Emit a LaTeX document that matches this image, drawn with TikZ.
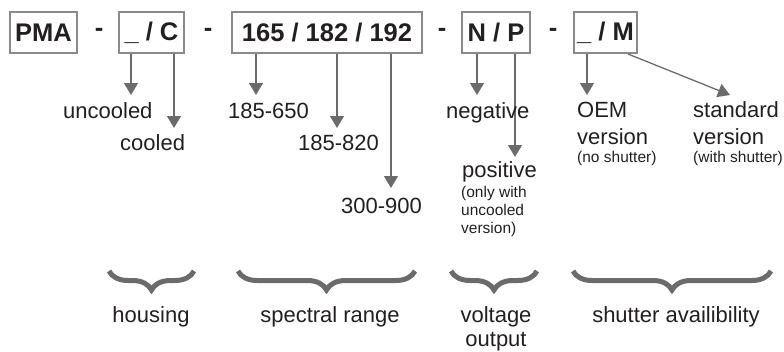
\documentclass[tikz,border=0pt]{standalone}
\usepackage{fontspec}
\setmainfont{Liberation Sans}
\usetikzlibrary{arrows.meta,decorations.pathreplacing}
\definecolor{txt}{HTML}{231F20}
\definecolor{boxc}{HTML}{8A8A8A}
\definecolor{arrc}{HTML}{6B6B6B}
\tikzset{
  codebox/.style={draw=boxc,line width=1.2pt,inner sep=0pt,minimum height=41pt,text=txt,font=\fontsize{25.5}{28}\selectfont\bfseries},
  sep/.style={inner sep=0pt,text=txt,font=\fontsize{25.5}{28}\selectfont\bfseries},
  lab/.style={inner sep=0pt,text=txt,font=\fontsize{22}{26}\selectfont,anchor=base west},
  small/.style={inner sep=0pt,text=txt,font=\fontsize{15.5}{18}\selectfont,anchor=base west},
  blab/.style={inner sep=0pt,text=txt,font=\fontsize{22}{26}\selectfont,anchor=base},
  arr/.style={draw=arrc,line width=1.3pt,-{Triangle[length=12pt,width=14pt]}},
  brc/.style={draw=arrc,line width=5pt,decorate,decoration={brace,amplitude=19pt}}
}
\begin{document}
\begin{tikzpicture}[x=1pt,y=-1pt]
\useasboundingbox (0,0) rectangle (784,351);
% code boxes
\node[codebox,minimum width=67pt] (pma) at (43.5,32.5) {PMA};
\node[codebox,minimum width=65pt] (hc) at (151.5,32.5) {\_ / C};
\node[codebox,minimum width=190pt] (sr) at (327,32.5) {165 / 182 / 192};
\node[codebox,minimum width=68pt] (np) at (496,32.5) {N / P};
\node[codebox,minimum width=63pt] (sm) at (605.5,32.5) {\_ / M};
\node[sep] (d1) at (99,32) {-};
\node[sep] (d2) at (208,32) {-};
\node[sep] (d3) at (442,32) {-};
\node[sep] (d4) at (553,32) {-};
% arrow tips
\coordinate (t1) at (131,95);
\coordinate (t2) at (174,128);
\coordinate (t3) at (256,95);
\coordinate (t4) at (337,128);
\coordinate (t5) at (391,188);
\coordinate (t6) at (477,95);
\coordinate (t7) at (515,157);
\coordinate (t8) at (587,95);
\coordinate (t9) at (730,95);
\coordinate (s9) at (628,54);
\draw[arr] (hc.south -| t1) -- (t1);
\draw[arr] (hc.south -| t2) -- (t2);
\draw[arr] (sr.south -| t3) -- (t3);
\draw[arr] (sr.south -| t4) -- (t4);
\draw[arr] (sr.south -| t5) -- (t5);
\draw[arr] (np.south -| t6) -- (t6);
\draw[arr] (np.south -| t7) -- (t7);
\draw[arr] (sm.south -| t8) -- (t8);
\draw[arr] (s9) -- (t9);
% labels
\node[lab] (uncooled) at (63,118) {uncooled};
\node[lab] (cooled) at (120,150) {cooled};
\node[lab] (r1) at (228,118) {185-650};
\node[lab] (r2) at (298,150) {185-820};
\node[lab] (r3) at (341,213) {300-900};
\node[lab] (neg) at (446,118) {negative};
\node[lab] (pos) at (462,177) {positive};
\node[small] (n1) at (461,197) {(only with};
\node[small] (n2) at (461,215) {uncooled};
\node[small] (n3) at (461,233) {version)};
\node[lab] (oem) at (577,117) {OEM};
\node[lab] (oemv) at (577,144) {version};
\node[small] (oemn) at (577,162) {(no shutter)};
\node[lab] (std) at (693,117) {standard};
\node[lab] (stdv) at (693,144) {version};
\node[small] (stdn) at (693,162) {(with shutter)};
% braces
\coordinate (b1r) at (194,271); \coordinate (b1l) at (109,271);
\coordinate (b2r) at (415,271); \coordinate (b2l) at (238,271);
\coordinate (b3r) at (537,271); \coordinate (b3l) at (451,271);
\coordinate (b4r) at (771,271); \coordinate (b4l) at (573,271);
\draw[brc] (b1r) -- (b1l);
\draw[brc] (b2r) -- (b2l);
\draw[brc] (b3r) -- (b3l);
\draw[brc] (b4r) -- (b4l);
\node[blab] (g1) at (151,322) {housing};
\node[blab] (g2) at (330,322) {spectral range};
\node[blab] (g3) at (496,322) {voltage};
\node[blab] (g3b) at (496,346) {output};
\node[blab] (g4) at (676,322) {shutter availibility};
\end{tikzpicture}
\end{document}
